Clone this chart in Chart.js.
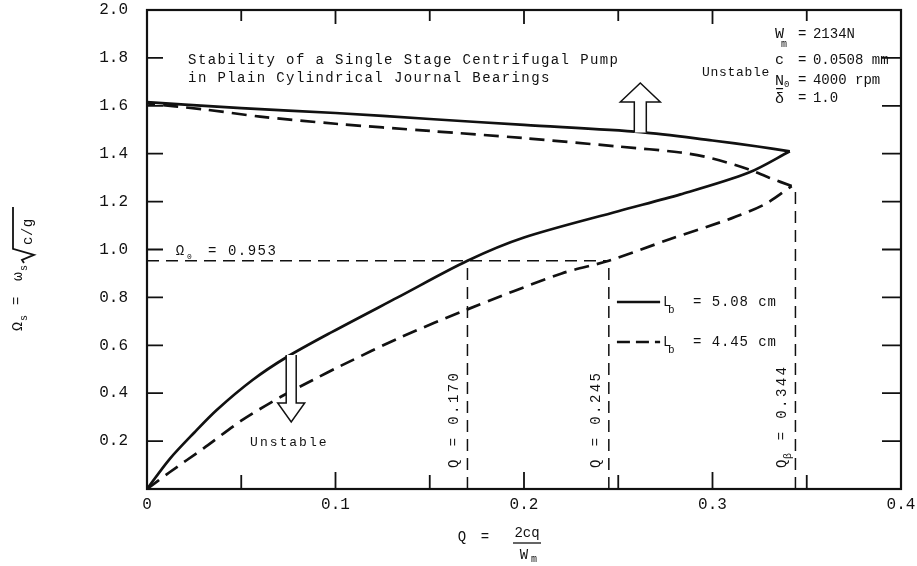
<!DOCTYPE html>
<html>
<head>
<meta charset="utf-8">
<script src="https://cdn.jsdelivr.net/npm/chart.js@4.4.1/dist/chart.umd.min.js"></script>
<style>
  html, body { margin: 0; padding: 0; background: #fff; }
  #wrap { width: 917px; height: 566px; }
</style>
</head>
<body>
<div id="wrap"><canvas id="stabilityChart" width="917" height="566"></canvas></div>
<script>
// Lb = 5.08 cm (solid line), lower branch from origin up to the nose, then upper branch back
const solidLowerQ     = [0, 0.012, 0.025, 0.037, 0.056, 0.074, 0.098, 0.133, 0.170, 0.200, 0.250, 0.283, 0.319, 0.341];
const solidLowerOmega = [0, 0.125, 0.235, 0.33, 0.455, 0.55, 0.655, 0.80, 0.953, 1.05, 1.16, 1.23, 1.32, 1.41];
const solidUpperQ     = [0.341, 0.324, 0.300, 0.262, 0.200, 0.150, 0.100, 0.050, 0.020, 0];
const solidUpperOmega = [1.41, 1.43, 1.455, 1.49, 1.52, 1.545, 1.57, 1.59, 1.605, 1.615];

// Lb = 4.45 cm (dashed line)
const dashedLowerQ     = [0, 0.012, 0.030, 0.050, 0.071, 0.088, 0.103, 0.135, 0.170, 0.220, 0.245, 0.278, 0.310, 0.328, 0.342];
const dashedLowerOmega = [0, 0.07, 0.17, 0.285, 0.385, 0.455, 0.515, 0.635, 0.75, 0.90, 0.953, 1.045, 1.13, 1.19, 1.265];
const dashedUpperQ     = [0.342, 0.330, 0.319, 0.300, 0.283, 0.250, 0.200, 0.150, 0.100, 0.060, 0.030, 0];
const dashedUpperOmega = [1.265, 1.30, 1.335, 1.38, 1.405, 1.43, 1.465, 1.495, 1.525, 1.555, 1.585, 1.61];

// threshold speed and the flow values marked on the plot
const omega0 = 0.953;
const qMarks = [0.170, 0.245, 0.344];
const qMarkTops = [0.953, 0.953, 1.265];
const qMarkValues = ['0.170', '0.245', '0.344'];
const qMarkSubs = ['', '', 'β'];

// axis ticks
const xTickValues = [0, 0.1, 0.2, 0.3, 0.4];
const yTickValues = [0.2, 0.4, 0.6, 0.8, 1.0, 1.2, 1.4, 1.6, 1.8, 2.0];
const xInnerTicks = [0.05, 0.1, 0.15, 0.2, 0.25, 0.3, 0.35];
const yInnerTicks = [0.2, 0.4, 0.6, 0.8, 1.0, 1.2, 1.4, 1.6, 1.8];

// texts
const titleLines = ['Stability of a Single Stage Centrifugal Pump', 'in Plain Cylindrical Journal Bearings'];
const paramNames = ['W', 'c', 'N', 'δ'];
const paramSubs = ['m', '', '0', ''];
const paramValues = ['2134N', '0.0508 mm', '4000 rpm', '1.0'];
const legendValues = ['5.08 cm', '4.45 cm'];

const ink = '#111';
const mono = '"Liberation Mono", "DejaVu Sans Mono", monospace';

function pts(qs, os) {
  return qs.map((q, i) => ({ x: q, y: os[i] }));
}

function curve(qs, os, dash) {
  return {
    data: pts(qs, os), showLine: true, pointRadius: 0, borderColor: ink,
    borderWidth: 2.7, borderDash: dash, tension: 0.3, fill: false
  };
}

function guide(data) {
  return {
    data: data, showLine: true, pointRadius: 0, borderColor: ink,
    borderWidth: 1.5, borderDash: [12, 7], tension: 0, fill: false
  };
}

const datasets = [
  curve(solidLowerQ, solidLowerOmega, []),
  curve(solidUpperQ, solidUpperOmega, []),
  curve(dashedLowerQ, dashedLowerOmega, [15, 8]),
  curve(dashedUpperQ, dashedUpperOmega, [15, 8]),
  guide([{ x: 0, y: omega0 }, { x: qMarks[1], y: omega0 }])
];
qMarks.forEach((q, i) => datasets.push(guide([{ x: q, y: 0 }, { x: q, y: qMarkTops[i] }])));

function put(ctx, s, px, py, size, opts) {
  opts = opts || {};
  ctx.font = size + 'px ' + mono;
  ctx.textAlign = opts.align || 'left';
  ctx.textBaseline = opts.base || 'middle';
  ctx.letterSpacing = (opts.sp || 0) + 'px';
  ctx.fillText(s, px, py);
  const w = ctx.measureText(s).width;
  ctx.letterSpacing = '0px';
  return w;
}

function hollowArrow(ctx, px, yFrom, yTip, headLen, headHalf, shaftHalf) {
  const dir = Math.sign(yTip - yFrom);
  const yBase = yTip - dir * headLen;
  ctx.beginPath();
  ctx.moveTo(px - shaftHalf, yFrom);
  ctx.lineTo(px - shaftHalf, yBase);
  ctx.lineTo(px - headHalf, yBase);
  ctx.lineTo(px, yTip);
  ctx.lineTo(px + headHalf, yBase);
  ctx.lineTo(px + shaftHalf, yBase);
  ctx.lineTo(px + shaftHalf, yFrom);
  ctx.fillStyle = '#fff';
  ctx.fill();
  ctx.lineWidth = 1.5;
  ctx.stroke();
  ctx.fillStyle = ink;
}

const extras = {
  id: 'extras',
  afterDatasetsDraw(chart) {
    const { ctx, chartArea: a, scales: { x, y } } = chart;
    const X = v => x.getPixelForValue(v);
    const Y = v => y.getPixelForValue(v);
    ctx.save();
    ctx.strokeStyle = ink;
    ctx.fillStyle = ink;

    // frame and inward ticks
    ctx.lineWidth = 2.2;
    ctx.strokeRect(a.left, a.top, a.right - a.left, a.bottom - a.top);
    ctx.lineWidth = 1.8;
    ctx.beginPath();
    xInnerTicks.forEach(q => {
      const major = Math.abs(q * 10 - Math.round(q * 10)) < 1e-6;
      const len = major ? 17 : 14;
      ctx.moveTo(X(q), a.bottom); ctx.lineTo(X(q), a.bottom - len);
      ctx.moveTo(X(q), a.top); ctx.lineTo(X(q), a.top + (major ? 14 : 11));
    });
    yInnerTicks.forEach(o => {
      ctx.moveTo(a.left, Y(o)); ctx.lineTo(a.left + 16, Y(o));
      ctx.moveTo(a.right, Y(o)); ctx.lineTo(a.right - 19, Y(o));
    });
    ctx.stroke();

    // title
    put(ctx, titleLines[0], X(0.0218), Y(1.79), 14, { sp: 1.4 });
    put(ctx, titleLines[1], X(0.0218), Y(1.716), 14, { sp: 1.4 });

    // parameters block
    const rowOmega = [1.90, 1.79, 1.705, 1.63];
    paramNames.forEach((n, i) => {
      const px = X(0.3332), py = Y(rowOmega[i]);
      put(ctx, n, px, py, 15);
      if (paramSubs[i] === 'm') put(ctx, 'm', px + 6, py + 10, 10);
      else if (paramSubs[i]) put(ctx, paramSubs[i], px + 9, py + 4, 9);
      if (n === 'δ') {
        ctx.lineWidth = 1.2;
        ctx.beginPath(); ctx.moveTo(px + 1, py - 10); ctx.lineTo(px + 8, py - 10); ctx.stroke();
      }
      put(ctx, '=', X(0.3454), py, 14);
      put(ctx, paramValues[i], X(0.3533), py, 14, { sp: 0 });
    });

    // unstable regions
    put(ctx, 'Unstable', X(0.2944), Y(1.737), 13, { sp: 0.7 });
    hollowArrow(ctx, X(0.2617), Y(1.488), Y(1.695), 19, 20, 6);
    hollowArrow(ctx, X(0.0765), Y(0.56), Y(0.28), 19, 13.5, 5);
    put(ctx, 'Unstable', X(0.0755), Y(0.192), 13, { sp: 2, align: 'center' });

    // threshold speed label
    put(ctx, 'Ω', X(0.0175), Y(0.994), 14, { align: 'center' });
    put(ctx, '0', X(0.0175) + 7, Y(0.994) + 6, 8);
    put(ctx, '= 0.953', X(0.0324), Y(0.994), 14, { sp: 1.5 });

    // vertical Q labels
    qMarks.forEach((q, i) => {
      ctx.save();
      ctx.translate(X(q) - 13, Y(0.088));
      ctx.rotate(-Math.PI / 2);
      let tx = put(ctx, 'Q', 0, 0, 14, { sp: 2.4 });
      if (qMarkSubs[i]) tx += put(ctx, qMarkSubs[i], tx - 2, 6, 10);
      put(ctx, ' = ' + qMarkValues[i], tx, 0, 14, { sp: 2.4 });
      ctx.restore();
    });

    // legend
    const legOmega = [0.781, 0.614];
    legOmega.forEach((o, i) => {
      ctx.save();
      ctx.lineWidth = 2.4;
      ctx.setLineDash(i === 0 ? [] : [13, 6]);
      ctx.beginPath(); ctx.moveTo(X(0.2493), Y(o)); ctx.lineTo(X(0.2722), Y(o)); ctx.stroke();
      ctx.restore();
      put(ctx, 'L', X(0.2738), Y(o), 14);
      put(ctx, 'b', X(0.2738) + 5, Y(o) + 8, 11);
      put(ctx, '= ' + legendValues[i], X(0.2897), Y(o), 14, { sp: 0.9 });
    });

    // x axis title: Q = 2cq / Wm
    const ty = a.bottom;
    put(ctx, 'Q', X(0.1671), ty + 48, 14, { align: 'center' });
    put(ctx, '=', X(0.1793), ty + 48, 14, { align: 'center' });
    put(ctx, '2cq', X(0.2016), ty + 44, 14, { align: 'center' });
    ctx.lineWidth = 1.3;
    ctx.beginPath(); ctx.moveTo(X(0.2016) - 14, ty + 54); ctx.lineTo(X(0.2016) + 14, ty + 54); ctx.stroke();
    put(ctx, 'W', X(0.2016) - 3, ty + 66, 14, { align: 'center' });
    put(ctx, 'm', X(0.2016) + 7, ty + 70, 10, { align: 'center' });

    // y axis title: Ωs = ωs sqrt(c/g)
    ctx.save();
    ctx.translate(22, Y(0.66));
    ctx.rotate(-Math.PI / 2);
    put(ctx, 'Ω', 0, 0, 15, { base: 'alphabetic' });
    put(ctx, 's', 10, 5, 10, { base: 'alphabetic' });
    put(ctx, '=', 26, -1, 14, { base: 'alphabetic' });
    put(ctx, 'ω', 50, 0, 15, { base: 'alphabetic' });
    put(ctx, 's', 60, 5, 10, { base: 'alphabetic' });
    ctx.lineWidth = 1.8;
    ctx.beginPath();
    ctx.moveTo(68, 2); ctx.lineTo(71, 0); ctx.lineTo(76, 12); ctx.lineTo(82, -9); ctx.lineTo(124, -9);
    ctx.stroke();
    put(ctx, 'c/g', 86, 10, 14, { base: 'alphabetic', sp: 0.5 });
    ctx.restore();

    ctx.restore();
  }
};

new Chart(document.getElementById('stabilityChart').getContext('2d'), {
  type: 'scatter',
  data: { datasets: datasets },
  options: {
    responsive: false,
    animation: false,
    layout: { padding: { left: 0, right: 16, top: 10, bottom: 0 } },
    plugins: { legend: { display: false }, tooltip: { enabled: false } },
    scales: {
      x: {
        type: 'linear', min: 0, max: 0.4,
        afterBuildTicks: s => { s.ticks = xTickValues.map(v => ({ value: v })); },
        afterFit: s => { s.height = 77; s.paddingLeft = 0; s.paddingRight = 0; },
        ticks: {
          callback: v => (v === 0 ? '0' : v.toFixed(1)),
          font: { family: mono, size: 16 }, color: ink, padding: 6, maxRotation: 0
        },
        grid: { display: false, drawTicks: false }, border: { display: false }
      },
      y: {
        type: 'linear', min: 0, max: 2.0,
        afterBuildTicks: s => { s.ticks = yTickValues.map(v => ({ value: v })); },
        afterFit: s => { s.width = 147; s.paddingTop = 0; s.paddingBottom = 0; },
        ticks: {
          callback: v => v.toFixed(1),
          font: { family: mono, size: 16 }, color: ink, padding: 19
        },
        grid: { display: false, drawTicks: false }, border: { display: false }
      }
    }
  },
  plugins: [extras]
});
</script>
</body>
</html>
